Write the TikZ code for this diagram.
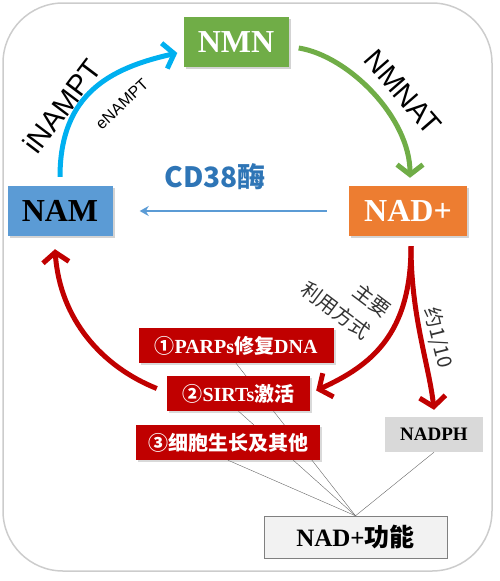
\documentclass[tikz,border=0pt]{standalone}
\usepackage{fontspec}
\setmainfont{Liberation Serif}
\setsansfont{Liberation Sans}
\newfontfamily\cjk{Noto Sans CJK SC}
\usetikzlibrary{arrows.meta,shadows,backgrounds}
\definecolor{nmngreen}{HTML}{70AD47}
\definecolor{namblue}{HTML}{5B9BD5}
\definecolor{nadorange}{HTML}{ED7D31}
\definecolor{darkred}{HTML}{C00000}
\definecolor{cyanarc}{HTML}{00B0F0}
\definecolor{cdblue}{HTML}{2E75B6}

\begin{document}
\begin{tikzpicture}[x=1pt,y=-1pt,
    metab/.style={minimum height=50pt,inner sep=0pt,
        font=\fontsize{32}{32}\selectfont\bfseries,
        drop shadow={opacity=0.35,shadow xshift=2pt,shadow yshift=-2pt}},
    use/.style={fill=darkred,text=white,minimum height=35pt,inner sep=0pt,
        font=\fontsize{20}{20}\selectfont\bfseries,
        drop shadow={opacity=0.3,shadow xshift=2pt,shadow yshift=-2pt}},
    barb/.style={-{Straight Barb[length=10pt,width=26pt]},line width=5pt},
    enzyme/.style={font=\sffamily\fontsize{29}{29}\selectfont},
    note/.style={font=\cjk\fontsize{20}{20}\selectfont,text=black!80}]
    \useasboundingbox (0,0) rectangle (500,581);
    \node[metab,fill=nmngreen,text=white,minimum width=105pt] (nmn) at (236,42) {NMN};
    \node[metab,fill=namblue,minimum width=105pt] (nam) at (60,211) {NAM};
    \node[metab,fill=nadorange,text=white,minimum width=118pt] (nad) at (408,211) {NAD+};
    \node[use,minimum width=195pt] (parp) at (236,345.5) {{\cjk ①}PARPs{\cjk 修复}DNA};
    \node[use,minimum width=143pt] (sirt) at (238.5,393.5) {{\cjk ②}SIRTs{\cjk 激活}};
    \node[use,minimum width=184pt] (cell) at (228,442.5) {\cjk ③细胞生长及其他};
    \node[fill=black!15,minimum width=98pt,minimum height=35pt,inner sep=0pt,
        font=\fontsize{19}{19}\selectfont\bfseries] (nadph) at (434,434.5) {NADPH};
    \node[draw=black!50,fill=black!5,minimum width=183pt,minimum height=42pt,inner sep=0pt,
        font=\fontsize{25}{25}\selectfont\bfseries] (func) at (355.5,537) {NAD+{\cjk 功能}};
    \node[font=\cjk\bfseries\fontsize{28}{28}\selectfont,text=cdblue] (cd38) at (215,177) {CD38酶};
    \node[enzyme,rotate=53] (inampt) at (62,106) {iNAMPT};
    \node[font=\sffamily\fontsize{16}{16}\selectfont,rotate=43] (enampt) at (122,104) {eNAMPT};
    \node[enzyme,rotate=-49] (nmnat) at (403,92) {NMNAT};
    \node[note,rotate=-37] (main) at (372,300) {主要};
    \node[note,rotate=-37] (way) at (336,310) {利用方式};
    \node[note,rotate=-76] (tenth) at (438,338) {约1/10};
    \begin{scope}[on background layer]
        \draw[black!20,line width=1.5pt,rounded corners=60pt] (3,3) rectangle (492,571);
        \draw[black!60] (parp.south) -- (func.north);
        \draw[black!60] (sirt.south) -- (func.north);
        \draw[black!60] (cell.south) -- (func.north);
        \draw[black!60] (nadph.south) -- (func.north);
    \end{scope}
    \draw[barb,cyanarc] ([yshift=9pt]nam.north) .. controls +(0,-83) and +(-67,15) .. ([xshift=-6pt,yshift=-11pt]nmn.west);
    \draw[barb,nmngreen] ([xshift=10pt,yshift=-6pt]nmn.east) .. controls +(50,8) and +(0,-60) .. ([xshift=2pt,yshift=8pt]nad.north);
    \draw[namblue,line width=2.5pt,-{Stealth[length=9pt,width=10pt]}] ([xshift=-22pt]nad.west) -- ([xshift=27pt]nam.east);
    \draw[barb,darkred] ([xshift=3pt,yshift=-10pt]nad.south) .. controls +(0,88) and +(55,-25) .. ([xshift=6pt,yshift=3pt]sirt.east);
    \draw[barb,darkred] ([xshift=3pt,yshift=-10pt]nad.south) .. controls +(0,70) and +(-5,-45) .. ([yshift=7pt]nadph.north);
    \draw[barb,darkred] ([xshift=-10pt,yshift=5pt]sirt.west) .. controls +(-55,-22) and +(5,70) .. ([xshift=-5pt,yshift=-13pt]nam.south);
\end{tikzpicture}
\end{document}
